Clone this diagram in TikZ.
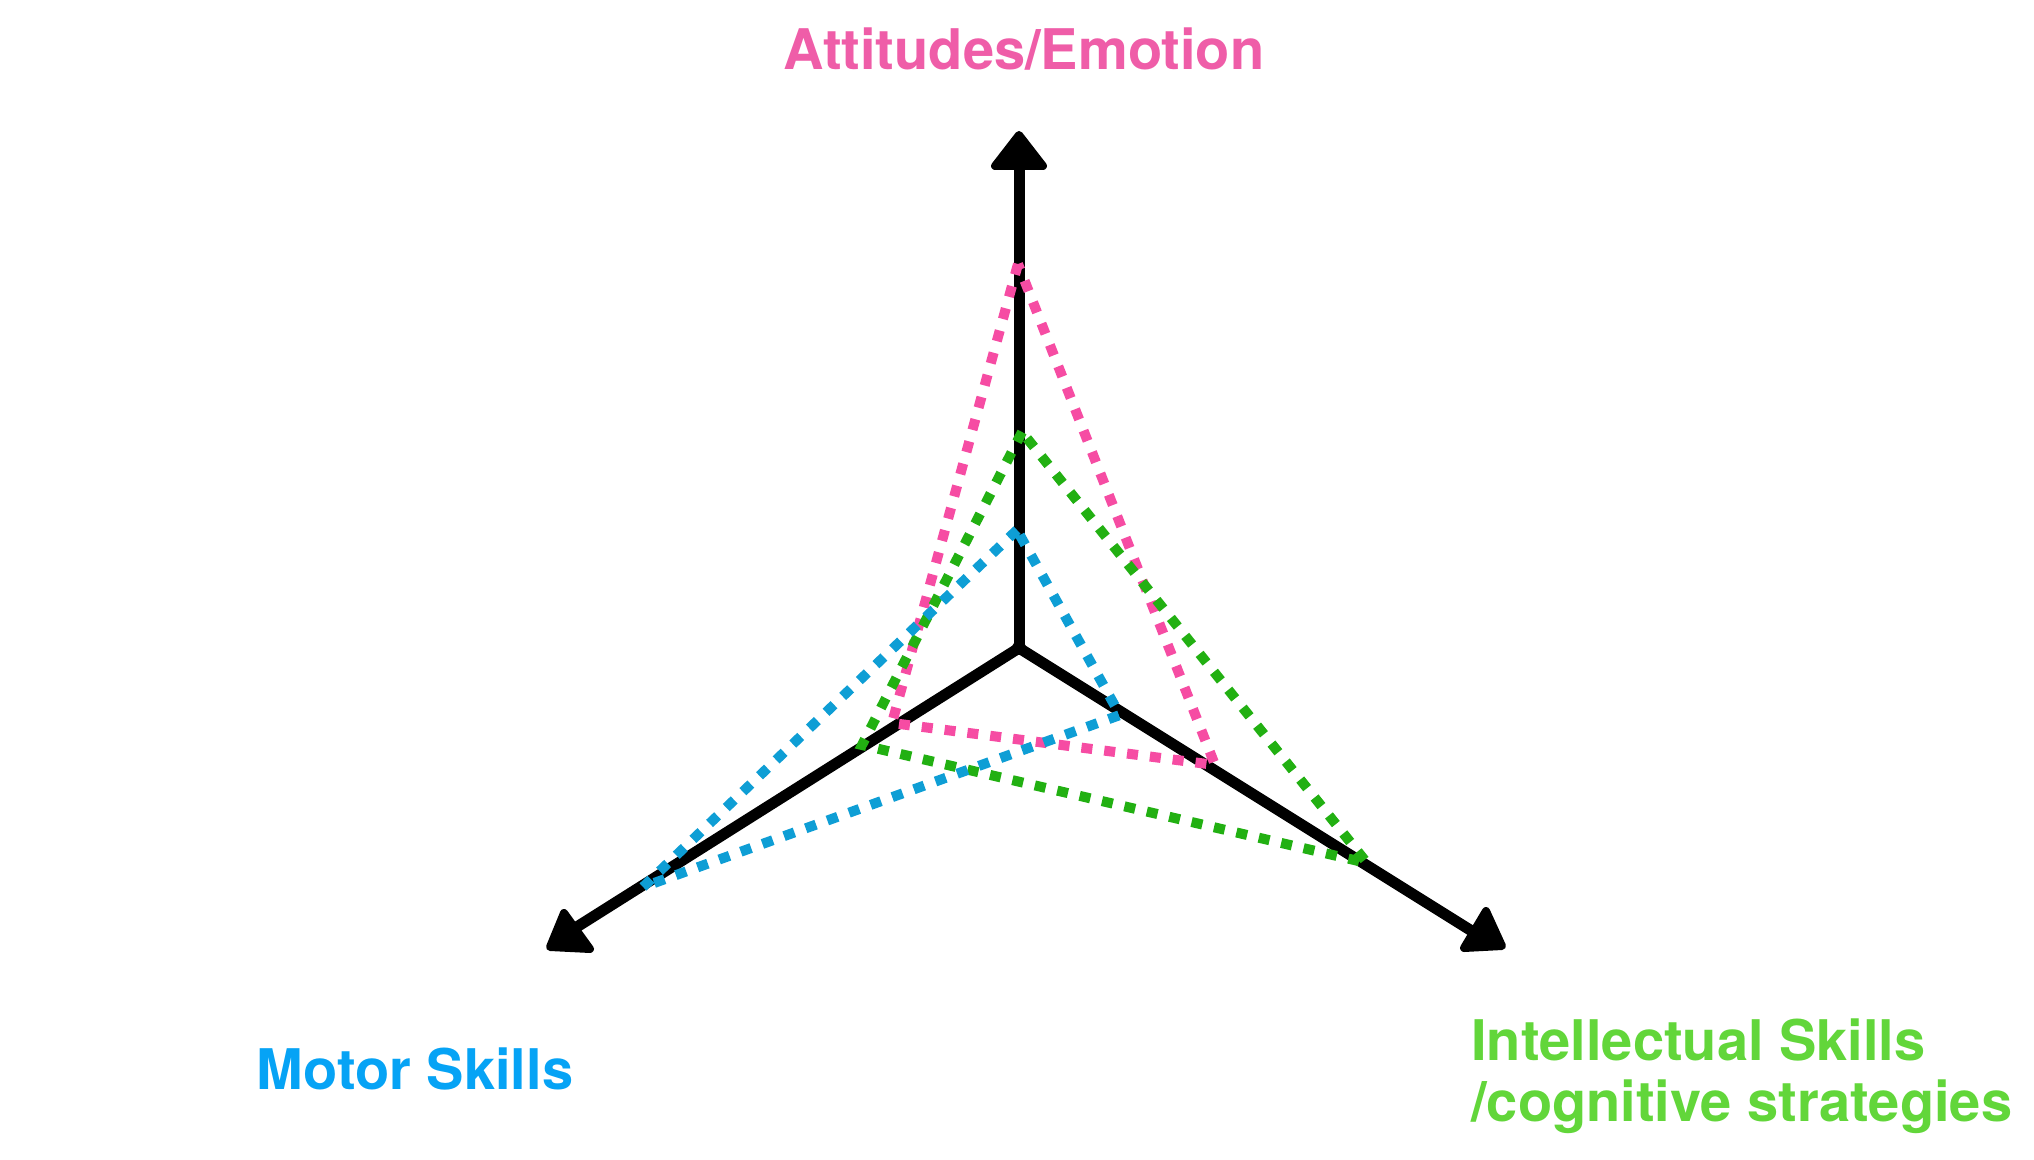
\documentclass[tikz,border=0pt]{standalone}
\usepackage{fontspec}
\setmainfont{TeX Gyre Heros}
\definecolor{pinkT}{HTML}{EF5DA8}
\definecolor{pinkD}{HTML}{F64CA3}
\definecolor{blueT}{HTML}{06A3F5}
\definecolor{blueD}{HTML}{0E9ED5}
\definecolor{greenT}{HTML}{62D63A}
\definecolor{greenD}{HTML}{22B012}
\tikzset{
  axisline/.style={line width=5.5pt, line cap=round, draw=black},
  tiphead/.style={fill=black, draw=black, line width=4pt, line join=round},
  radar/.style={line width=5pt, dash pattern=on 5.5pt off 6pt, line cap=butt, line join=miter},
  lbl/.style={inner sep=0pt, font=\fontsize{28}{30.5}\selectfont\bfseries}
}
\begin{document}
\begin{tikzpicture}[x=0.5pt,y=-0.5pt]
\fill[white] (0,0) rectangle (2034,1160);
\useasboundingbox (0,0) rectangle (2034,1160);
% axes
\coordinate (O) at (1019,648);
\coordinate (Etop) at (1019,160);
\coordinate (Eleft) at (572,930);
\coordinate (Eright) at (1475,933);
\draw[axisline] (O) -- (Etop);
\draw[axisline] (O) -- (Eleft);
\draw[axisline] (O) -- (Eright);
\fill[black] (O) circle[radius=7];
% arrowheads
\coordinate (Ta) at (1019,135);
\coordinate (Tb) at (995,166);
\coordinate (Tc) at (1043,166);
\fill[black] (Ta) -- (Tb) -- (Tc) -- cycle;
\draw[tiphead] (Ta) -- (Tb) -- (Tc) -- cycle;
\coordinate (La) at (564,913);
\coordinate (Lb) at (550,947);
\coordinate (Lc) at (590,949);
\fill[black] (La) -- (Lb) -- (Lc) -- cycle;
\draw[tiphead] (La) -- (Lb) -- (Lc) -- cycle;
\coordinate (Ra) at (1486,911);
\coordinate (Rb) at (1464,948);
\coordinate (Rc) at (1502,946);
\fill[black] (Ra) -- (Rb) -- (Rc) -- cycle;
\draw[tiphead] (Ra) -- (Rb) -- (Rc) -- cycle;
% radar shapes
\coordinate (P1) at (1018,264);
\coordinate (P2) at (892,723);
\coordinate (P3) at (1215,765);
\coordinate (G1) at (1022,432);
\coordinate (G2) at (862,745);
\coordinate (G3) at (1367,863);
\coordinate (B1) at (1017,530);
\coordinate (B2) at (643,887);
\coordinate (B3) at (1120,715);
\draw[radar, pinkD] (P1) -- (P2) -- (P3) -- cycle;
\draw[radar, greenD] (G1) -- (G2) -- (G3) -- cycle;
\draw[radar, blueD] (B1) -- (B2) -- (B3) -- cycle;
% labels
\node[lbl, text=pinkT, anchor=base] (att) at (1024,70) {Attitudes/Emotion};
\node[lbl, text=blueT, anchor=base] (mot) at (415,1089) {Motor Skills};
\node[lbl, text=greenT, anchor=base west] (int1) at (1471,1060) {Intellectual Skills};
\node[lbl, text=greenT, anchor=base west] (int2) at (1471,1121) {/cognitive strategies};
\end{tikzpicture}
\end{document}
